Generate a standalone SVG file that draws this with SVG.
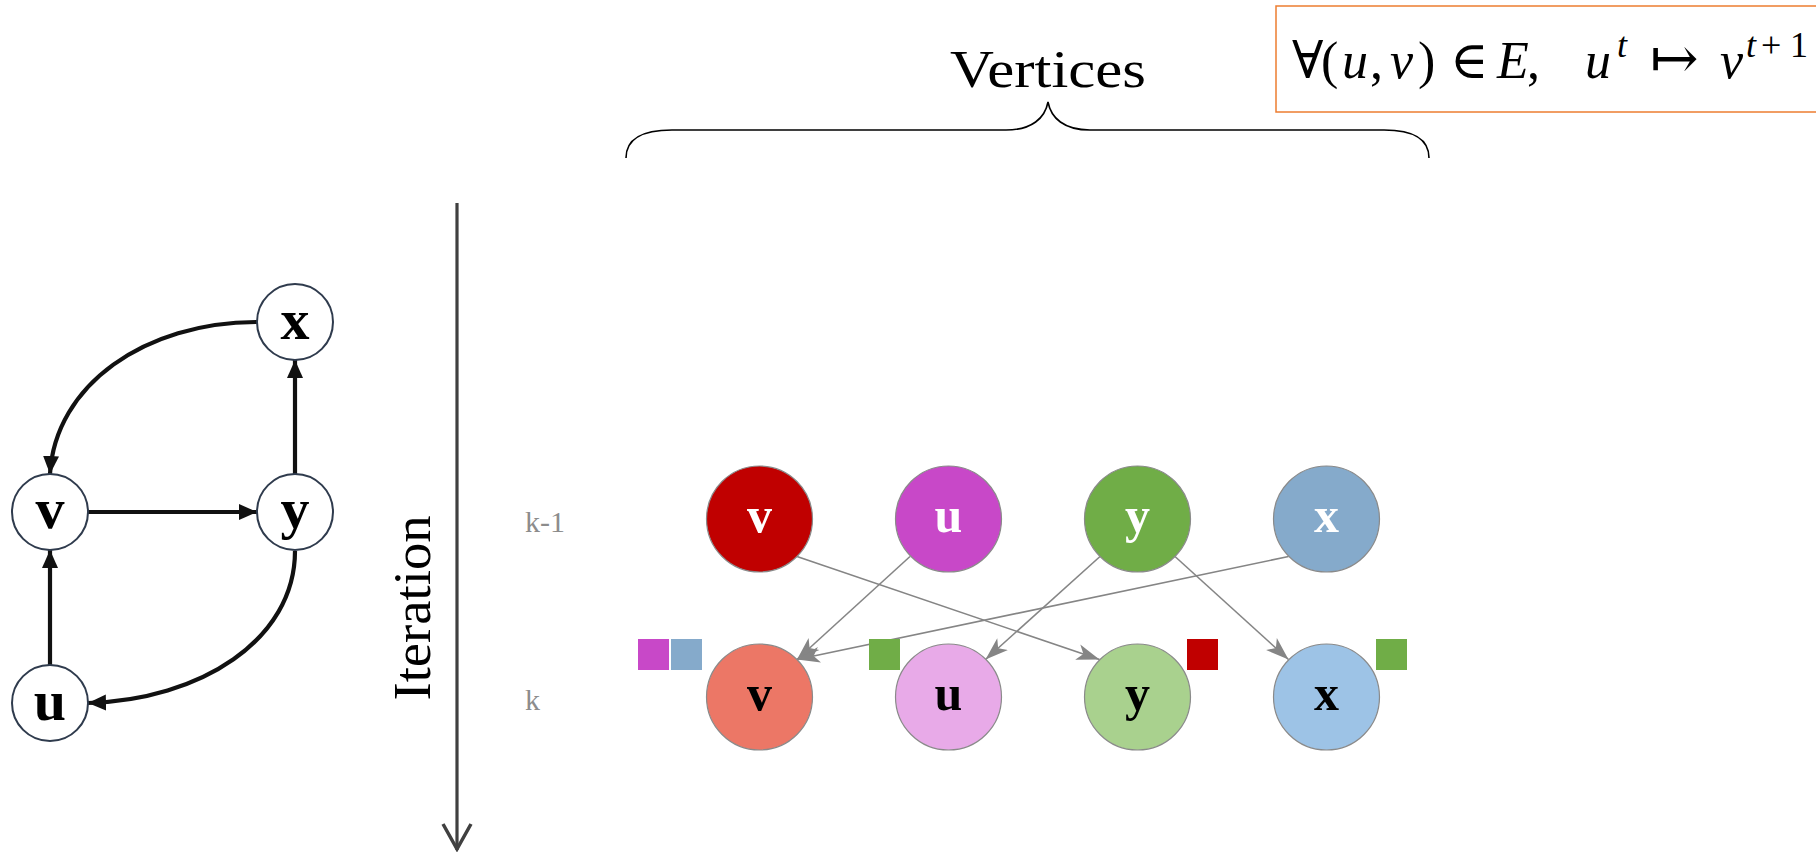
<svg xmlns="http://www.w3.org/2000/svg" width="1816" height="853" viewBox="0 0 1816 853">
<style>
.gnode{fill:#fff;stroke:#2f3b4d;stroke-width:2}
.glab{font-family:"Liberation Serif","DejaVu Serif",serif;font-weight:bold;font-size:58px;text-anchor:middle;fill:#000}
.gedge{fill:none;stroke:#111;stroke-width:4.2}
.vnode{stroke:#8a8a8a;stroke-width:1.2}
.vlab{font-family:"Liberation Serif","DejaVu Serif",serif;font-weight:bold;font-size:50px;text-anchor:middle}
.vedge{fill:none;stroke:#858585;stroke-width:1.6}
.klab{font-family:"Liberation Serif","DejaVu Serif",serif;font-size:30px;fill:#8c8c8c}
.big{font-family:"Liberation Serif","DejaVu Serif",serif;font-size:52px;fill:#000}
.math{font-family:"Liberation Serif","DejaVu Serif",serif;font-size:52px;fill:#000}
.it{font-style:italic}
.sup{font-size:36px}
</style>
<defs>
<marker id="ah" markerUnits="userSpaceOnUse" viewBox="0 -9 19 18" refX="18" refY="0" markerWidth="19" markerHeight="18" orient="auto">
<path d="M0,-8 L18,0 L0,8 z" fill="#111"/>
</marker>
<marker id="st" markerUnits="userSpaceOnUse" viewBox="0 -9 24 18" refX="23" refY="0" markerWidth="24" markerHeight="18" orient="auto">
<path d="M0,-8 L23,0 L0,8 L6,0 z" fill="#858585"/>
</marker>
<marker id="open" markerUnits="userSpaceOnUse" viewBox="-2 -16 30 32" refX="26" refY="0" markerWidth="30" markerHeight="32" orient="auto">
<path d="M0,-14 L25,0 L0,14" fill="none" stroke="#404040" stroke-width="3.5"/>
</marker>
</defs>

<!-- formula box -->
<g id="formula">
<rect x="1276" y="6" width="600" height="106" fill="#fff" stroke="#ED7D31" stroke-width="1.5"/>
<text class="math" y="78"><tspan x="1292">∀</tspan><tspan x="1321">(</tspan><tspan x="1342" class="it">u</tspan><tspan x="1370">,</tspan><tspan x="1390" class="it">v</tspan><tspan x="1418">)</tspan><tspan x="1450">∈</tspan><tspan x="1497" class="it">E</tspan><tspan x="1527">,</tspan><tspan x="1585" class="it">u</tspan><tspan x="1617" y="57" class="it sup">t</tspan><tspan x="1650" y="78" font-size="58">↦</tspan><tspan x="1720" class="it">v</tspan><tspan x="1746" y="57" class="it sup">t</tspan><tspan x="1761" y="57" class="sup">+</tspan><tspan x="1790" y="57" class="sup">1</tspan></text>
</g>

<!-- brace and title -->
<g id="vertices-brace">
<text class="big" x="1048" y="87" text-anchor="middle" textLength="196" lengthAdjust="spacingAndGlyphs">Vertices</text>
<path d="M626,158 C626,140 640,130 672,130 L1006,130 C1032,130 1045,118 1048,102 C1051,118 1064,130 1090,130 L1384,130 C1416,130 1429,140 1429,158" fill="none" stroke="#000" stroke-width="1.6"/>
</g>

<!-- iteration axis -->
<g id="iteration-axis">
<line x1="457" y1="203" x2="457" y2="850" stroke="#404040" stroke-width="3.2" marker-end="url(#open)"/>
<text class="big" transform="translate(430,608) rotate(-90)" x="0" y="0" text-anchor="middle" textLength="185" lengthAdjust="spacingAndGlyphs">Iteration</text>
</g>

<!-- left graph connectors -->
<g id="graph-edges">
<path class="gedge" d="M257,322 C145,322 55,385 50,474" marker-end="url(#ah)"/>
<path class="gedge" d="M88,512 L257,512" marker-end="url(#ah)"/>
<path class="gedge" d="M295,474 L295,360" marker-end="url(#ah)"/>
<path class="gedge" d="M50,665 L50,550" marker-end="url(#ah)"/>
<path class="gedge" d="M295,551 C295,640 200,700 88,703" marker-end="url(#ah)"/>
</g>

<!-- left graph nodes -->
<g id="g-x"><circle class="gnode" cx="295" cy="322" r="38"/><text class="glab" x="295" y="339">x</text></g>
<g id="g-v"><circle class="gnode" cx="50" cy="512" r="38"/><text class="glab" x="50" y="528">v</text></g>
<g id="g-y"><circle class="gnode" cx="295" cy="512" r="38"/><text class="glab" x="295" y="528">y</text></g>
<g id="g-u"><circle class="gnode" cx="50" cy="703" r="38"/><text class="glab" x="50" y="720">u</text></g>

<!-- row labels -->
<text id="lab-k1" class="klab" x="525" y="532">k-1</text>
<text id="lab-k" class="klab" x="525" y="710">k</text>

<!-- iteration connectors -->
<g id="iter-edges">
<line class="vedge" x1="797" y1="556.5" x2="1099.5" y2="659.5" marker-end="url(#st)"/>
<line class="vedge" x1="910" y1="556.5" x2="797" y2="659.5" marker-end="url(#st)"/>
<line class="vedge" x1="1100" y1="556.5" x2="985.5" y2="659.5" marker-end="url(#st)"/>
<line class="vedge" x1="1175" y1="556.5" x2="1288.5" y2="659.5" marker-end="url(#st)"/>
<line class="vedge" x1="1288.5" y1="556.5" x2="797" y2="659.5" marker-end="url(#st)"/>
</g>

<!-- row k-1 -->
<g id="k1-v"><circle class="vnode" cx="759.5" cy="519" r="53" fill="#C00000"/><text class="vlab" x="759.5" y="532" fill="#fff">v</text></g>
<g id="k1-u"><circle class="vnode" cx="948.5" cy="519" r="53" fill="#C848C8"/><text class="vlab" x="948.5" y="532" fill="#fff">u</text></g>
<g id="k1-y"><circle class="vnode" cx="1137.5" cy="519" r="53" fill="#70AD47"/><text class="vlab" x="1137.5" y="532" fill="#fff">y</text></g>
<g id="k1-x"><circle class="vnode" cx="1326.5" cy="519" r="53" fill="#85AACB"/><text class="vlab" x="1326.5" y="532" fill="#fff">x</text></g>

<!-- row k -->
<g id="k-v"><circle class="vnode" cx="759.5" cy="697" r="53" fill="#EC7766"/><text class="vlab" x="759.5" y="710" fill="#000">v</text></g>
<g id="k-u"><circle class="vnode" cx="948.5" cy="697" r="53" fill="#E8AAE8"/><text class="vlab" x="948.5" y="710" fill="#000">u</text></g>
<g id="k-y"><circle class="vnode" cx="1137.5" cy="697" r="53" fill="#A9D18E"/><text class="vlab" x="1137.5" y="710" fill="#000">y</text></g>
<g id="k-x"><circle class="vnode" cx="1326.5" cy="697" r="53" fill="#9DC3E6"/><text class="vlab" x="1326.5" y="710" fill="#000">x</text></g>

<!-- message squares -->
<g id="msg-v"><rect x="638" y="639" width="31" height="31" fill="#C848C8"/><rect x="671" y="639" width="31" height="31" fill="#85AACB"/></g>
<g id="msg-u"><rect x="869" y="639" width="31" height="31" fill="#70AD47"/></g>
<g id="msg-y"><rect x="1187" y="639" width="31" height="31" fill="#C00000"/></g>
<g id="msg-x"><rect x="1376" y="639" width="31" height="31" fill="#70AD47"/></g>
</svg>
